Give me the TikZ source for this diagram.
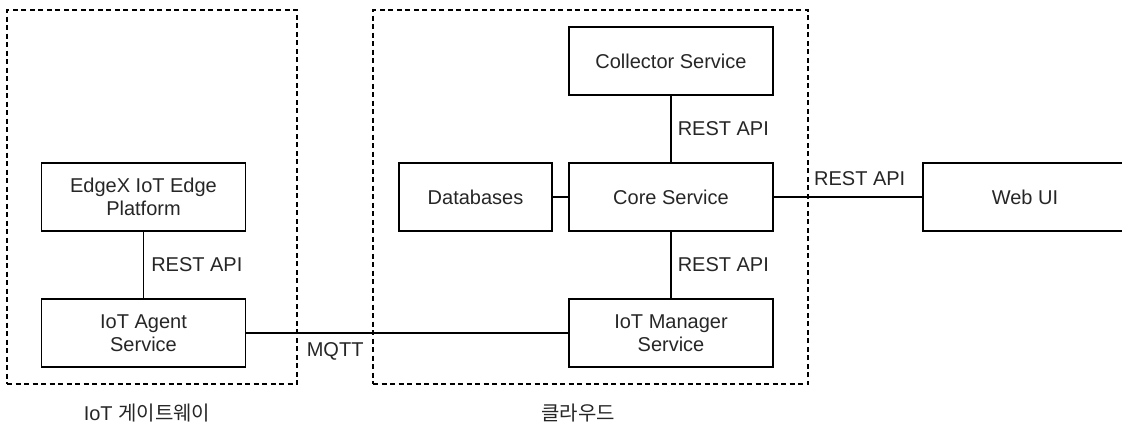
\documentclass[tikz,border=0pt]{standalone}
\usepackage{fontspec}
\setmainfont{Liberation Sans}
\newfontfamily\kofont{Noto Sans CJK KR}

\begin{document}
\begin{tikzpicture}
	    [x=1pt, y=-1pt,
	     svc/.style={rectangle, draw, line width=1.6pt, minimum width=204pt, minimum height=68pt, align=center, text=black!85, font=\fontsize{20}{23.5}\selectfont},
	     zone/.style={rectangle, draw, line width=1.4pt, dash pattern=on 5pt off 3.5pt, minimum height=374pt},
	     lbl/.style={inner sep=0pt, text=black!85, font=\fontsize{20}{24}\selectfont},
	     link/.style={line width=1.5pt}]
	    \path[use as bounding box, clip] (0,0) rectangle (1122,426);
	    % \draw[step=50pt,gray,very thin] (0,0) grid (1122,426);
	    \node[zone, minimum width=290pt] (gw)    at (152,197)   {};
	    \node[zone, minimum width=435pt] (cloud) at (590.5,197) {};
	    \node[svc]   (edgex)     at (143.5,197) {EdgeX IoT Edge\\Platform};
	    \node[svc]   (agent)     at (143.5,333) {IoT Agent\\Service};
	    \node[svc]   (collector) at (671,61)    {Collector Service};
	    \node[svc]   (core)      at (671,197)   {Core Service};
	    \node[svc]   (manager)   at (671,333)   {IoT Manager\\Service};
	    \node[svc, minimum width=153pt] (db) at (475.5,197) {Databases};
	    \node[svc]   (webui)     at (1025,197)  {Web UI};
	    \node[lbl] (gwname)    at (147,413) {IoT {\kofont 게이트웨이}};
	    \node[lbl] (cloudname) at (578,413) {{\kofont 클라우드}};
	    \draw[link] (edgex) -- node[lbl, right=7pt] {REST API} (agent);
	    \draw[link] (collector) -- node[lbl, right=6pt] {REST API} (core);
	    \draw[link] (core) -- node[lbl, right=6pt] {REST API} (manager);
	    \draw[link] (db) -- (core);
	    \draw[link] (core) -- node[lbl, pos=0.267, anchor=south west, yshift=11pt] {REST API} (webui);
	    \draw[link] (agent) -- node[lbl, pos=0.276, below=9pt] {MQTT} (manager);
	\end{tikzpicture}
\end{document}
